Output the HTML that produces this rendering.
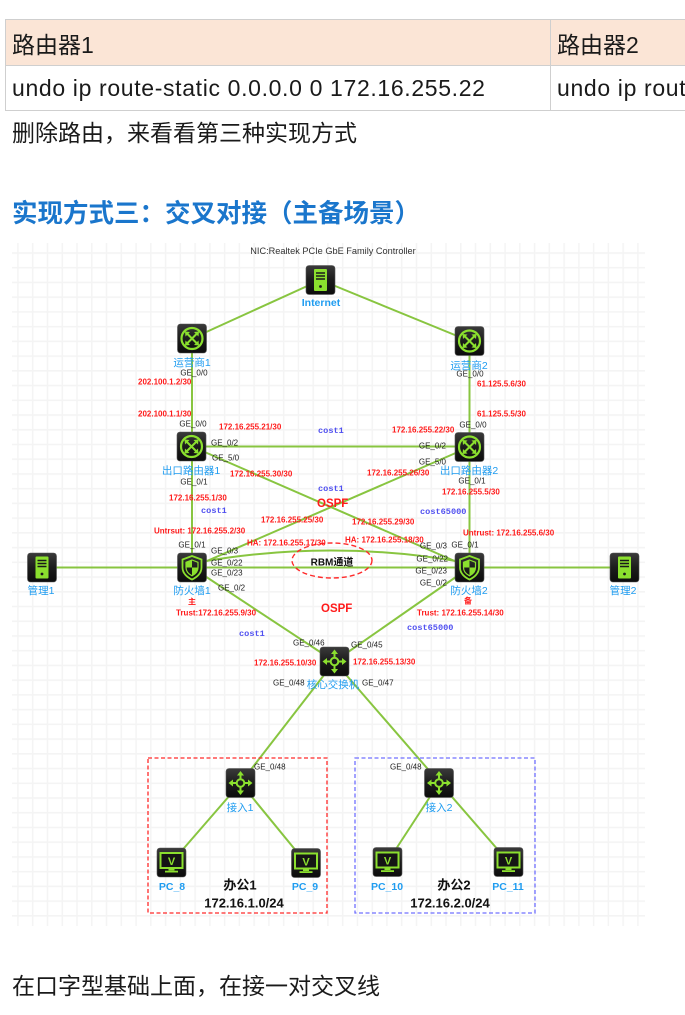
<!DOCTYPE html>
<html><head><meta charset="utf-8">
<style>
html,body{margin:0;padding:0;background:#fff;}
body{width:685px;height:1015px;position:relative;overflow:hidden;font-family:"Liberation Sans","Noto Sans CJK SC",sans-serif;color:#1a1a1a;}
.tbl{position:absolute;left:5px;top:19px;border-collapse:collapse;table-layout:fixed;width:680px;}
.tbl td{border:1px solid #cfcfcf;font-size:23px;padding:0 0 0 6px;white-space:nowrap;overflow:hidden;vertical-align:middle;}
.tbl td.last{border-right:none;}
.tbl tr.h td{background:#fbe5d6;height:45px;}
.tbl tr.b td{height:44px;letter-spacing:0.65px;}
.p{position:absolute;left:12px;font-size:23px;line-height:23px;white-space:nowrap;}
.title{position:absolute;left:12px;top:202px;font-size:25.5px;line-height:25px;font-weight:bold;color:#1a76cc;white-space:nowrap;}
svg{position:absolute;left:0;top:0;}
.g{font-family:"Liberation Sans",sans-serif;font-size:8px;fill:#222;}
.r{font-family:"Liberation Sans","Noto Sans CJK SC",sans-serif;font-size:8px;font-weight:bold;fill:#ff1a1a;}
.o{font-family:"Liberation Sans",sans-serif;font-size:11.5px;font-weight:bold;fill:#ff1a1a;}
.c{font-family:"Liberation Mono",monospace;font-size:8.6px;font-weight:bold;fill:#5050f0;}
.b{font-family:"Liberation Sans","Noto Sans CJK SC",sans-serif;font-size:10.5px;fill:#1f9cf0;}
.bb{font-family:"Liberation Sans",sans-serif;font-size:10.5px;font-weight:bold;fill:#1f9cf0;}
.k{font-family:"Liberation Sans","Noto Sans CJK SC",sans-serif;font-weight:bold;fill:#111;}
</style></head>
<body>
<table class="tbl">
<colgroup><col style="width:545px"><col style="width:135px"></colgroup>
<tr class="h"><td>路由器1</td><td class="last">路由器2</td></tr>
<tr class="b"><td>undo ip route-static 0.0.0.0 0 172.16.255.22</td><td class="last">undo ip route-static</td></tr>
</table>
<div class="p" style="top:122px">删除路由，来看看第三种实现方式</div>
<div class="title">实现方式三：交叉对接（主备场景）</div>
<div class="p" style="top:975px">在口字型基础上面，在接一对交叉线</div>

<svg width="685" height="1015" viewBox="0 0 685 1015" xmlns="http://www.w3.org/2000/svg">
<defs>
<pattern id="grid" x="17.2" y="252.2" width="14.76" height="14.73" patternUnits="userSpaceOnUse">
<path d="M0.8,0 V14.73 M0,0.8 H14.76" stroke="#f4f4f4" stroke-width="1.5" fill="none"/>
</pattern>
<linearGradient id="ib" x1="0" y1="0" x2="0" y2="1">
<stop offset="0" stop-color="#3a3a3a"/><stop offset="0.5" stop-color="#1c1c1c"/><stop offset="1" stop-color="#0c0c0c"/>
</linearGradient>
<g id="base"><rect x="-14.5" y="-14.5" width="29" height="29" rx="3" fill="url(#ib)" stroke="#555" stroke-width="0.6"/></g>
<g id="router">
<use href="#base"/>
<circle r="10.5" fill="none" stroke="#8be02e" stroke-width="2.2"/>
<g stroke="#8be02e" stroke-width="2" fill="none">
<path d="M-5,-5 L5,5 M5,-5 L-5,5"/>
</g>
<g fill="#8be02e">
<path d="M-7,-7 L-2,-6.5 L-6.5,-2 Z"/>
<path d="M7,7 L2,6.5 L6.5,2 Z"/>
<path d="M7,-7 L6.5,-2 L2,-6.5 Z"/>
<path d="M-7,7 L-6.5,2 L-2,6.5 Z"/>
</g>
</g>
<g id="server">
<use href="#base"/>
<rect x="-6.5" y="-11" width="13" height="22" rx="1" fill="#8be02e"/>
<g stroke="#1a1a1a" stroke-width="1.4"><path d="M-4.5,-7 H4.5 M-4.5,-4 H4.5 M-4.5,-1 H4.5"/></g>
<circle cx="0" cy="6.5" r="1.4" fill="#1a1a1a"/>
</g>
<g id="fw">
<use href="#base"/>
<path d="M0,-11.5 L9.5,-8 L9.5,0 C9.5,6 4.5,10 0,12 C-4.5,10 -9.5,6 -9.5,0 L-9.5,-8 Z" fill="none" stroke="#8be02e" stroke-width="1.8"/>
<path d="M0,-7.5 L6,-5.2 L6,0 C6,4 3,6.8 0,8.3 C-3,6.8 -6,4 -6,0 L-6,-5.2 Z" fill="none" stroke="#8be02e" stroke-width="1.2"/>
<path d="M0,-7.5 L-6,-5.2 L-6,0 L0,0 Z" fill="#8be02e"/>
<path d="M0,0 L6,0 C6,4 3,6.8 0,8.3 Z" fill="#8be02e"/>
</g>
<g id="sw">
<use href="#base"/>
<circle r="3.8" fill="none" stroke="#8be02e" stroke-width="2"/>
<g stroke="#8be02e" stroke-width="2"><path d="M0,-4 V-8 M0,4 V8 M-4,0 H-8 M4,0 H8"/></g>
<g fill="#8be02e">
<path d="M0,-12 L-3.5,-7.5 L3.5,-7.5 Z"/>
<path d="M0,12 L-3.5,7.5 L3.5,7.5 Z"/>
<path d="M-12,0 L-7.5,-3.5 L-7.5,3.5 Z"/>
<path d="M12,0 L7.5,-3.5 L7.5,3.5 Z"/>
</g>
</g>
<g id="pc">
<use href="#base"/>
<rect x="-11" y="-9.5" width="22" height="15" fill="#151515" stroke="#8be02e" stroke-width="2"/>
<text x="0" y="2.5" text-anchor="middle" font-family="Liberation Sans,sans-serif" font-weight="bold" font-size="11" fill="#8be02e">V</text>
<rect x="-3" y="6" width="6" height="2" fill="#8be02e"/>
<rect x="-6.5" y="8.2" width="13" height="1.8" fill="#8be02e"/>
</g>
</defs>

<rect x="12" y="243" width="633" height="683" fill="url(#grid)"/>

<!-- connectors -->
<g stroke="#88c540" stroke-width="2" fill="none">
<line x1="320.5" y1="280" x2="192" y2="338.5"/>
<line x1="320.5" y1="280" x2="469.5" y2="341"/>
<line x1="192" y1="338.5" x2="192" y2="446.5"/>
<line x1="469.5" y1="341" x2="469.5" y2="447"/>
<line x1="192" y1="446.5" x2="469.5" y2="446.5"/>
<line x1="192" y1="446.5" x2="469.5" y2="567.5"/>
<line x1="469.5" y1="447" x2="192" y2="567.5"/>
<line x1="192" y1="446.5" x2="192" y2="567.5"/>
<line x1="469.5" y1="447" x2="469.5" y2="567.5"/>
<line x1="42" y1="567.5" x2="624.5" y2="567.5"/>
<path d="M200,562 Q331,539 462,562"/>
<line x1="192" y1="567.5" x2="334.5" y2="661.5"/>
<line x1="469.5" y1="567.5" x2="334.5" y2="661.5"/>
<line x1="334.5" y1="661.5" x2="240.5" y2="783"/>
<line x1="334.5" y1="661.5" x2="508.5" y2="862"/>
<line x1="240.5" y1="783" x2="171.5" y2="862.5"/>
<line x1="240.5" y1="783" x2="306" y2="863"/>
<line x1="439" y1="783" x2="387.5" y2="862"/>
</g>

<!-- RBM ellipse -->
<ellipse cx="332" cy="560.5" rx="40" ry="17.5" fill="none" stroke="#ff2a2a" stroke-width="1.4" stroke-dasharray="5,3"/>

<!-- dashed boxes -->
<rect x="148" y="758" width="179" height="155" fill="none" stroke="#ff2a2a" stroke-width="1.3" stroke-dasharray="4,2.5"/>
<rect x="355" y="758" width="180" height="155" fill="none" stroke="#7070ff" stroke-width="1.3" stroke-dasharray="4,2.5"/>

<!-- icons -->
<use href="#server" x="320.5" y="280"/>
<use href="#router" x="192" y="338.5"/>
<use href="#router" x="469.5" y="341"/>
<use href="#router" x="191.5" y="446.5"/>
<use href="#router" x="469.5" y="447"/>
<use href="#server" x="42" y="567.5"/>
<use href="#fw" x="192" y="567.5"/>
<use href="#fw" x="469.5" y="567.5"/>
<use href="#server" x="624.5" y="567.5"/>
<use href="#sw" x="334.5" y="661.5"/>
<use href="#sw" x="240.5" y="783"/>
<use href="#sw" x="439" y="783"/>
<use href="#pc" x="171.5" y="862.5"/>
<use href="#pc" x="306" y="863"/>
<use href="#pc" x="387.5" y="862"/>
<use href="#pc" x="508.5" y="862"/>

<!-- texts -->
<g dominant-baseline="central">
<text x="333" y="251" text-anchor="middle" font-family="Liberation Sans,sans-serif" font-size="9.2" fill="#333">NIC:Realtek PCIe GbE Family Controller</text>

<text class="bb" x="321" y="303" text-anchor="middle">Internet</text>
<text class="b" x="192" y="363" text-anchor="middle">运营商1</text>
<text class="b" x="469" y="366" text-anchor="middle">运营商2</text>
<text class="b" x="191" y="471" text-anchor="middle">出口路由器1</text>
<text class="b" x="469" y="471" text-anchor="middle">出口路由器2</text>
<text class="b" x="41" y="591" text-anchor="middle">管理1</text>
<text class="b" x="192" y="591" text-anchor="middle">防火墙1</text>
<text class="b" x="469" y="591" text-anchor="middle">防火墙2</text>
<text class="b" x="623" y="591" text-anchor="middle">管理2</text>
<text class="b" x="333" y="685" text-anchor="middle">核心交换机</text>
<text class="b" x="240" y="808" text-anchor="middle">接入1</text>
<text class="b" x="439" y="808" text-anchor="middle">接入2</text>
<text class="bb" x="172" y="887" text-anchor="middle">PC_8</text>
<text class="bb" x="305" y="887" text-anchor="middle">PC_9</text>
<text class="bb" x="387" y="887" text-anchor="middle">PC_10</text>
<text class="bb" x="508" y="887" text-anchor="middle">PC_11</text>

<text class="g" x="194" y="373" text-anchor="middle">GE_0/0</text>
<text class="g" x="470" y="374" text-anchor="middle">GE_0/0</text>
<text class="g" x="193" y="424" text-anchor="middle">GE_0/0</text>
<text class="g" x="211" y="443">GE_0/2</text>
<text class="g" x="212" y="458">GE_5/0</text>
<text class="g" x="194" y="482" text-anchor="middle">GE_0/1</text>
<text class="g" x="473" y="425" text-anchor="middle">GE_0/0</text>
<text class="g" x="446" y="446" text-anchor="end">GE_0/2</text>
<text class="g" x="446" y="462" text-anchor="end">GE_5/0</text>
<text class="g" x="472" y="481" text-anchor="middle">GE_0/1</text>
<text class="g" x="192" y="545" text-anchor="middle">GE_0/1</text>
<text class="g" x="211" y="551">GE_0/3</text>
<text class="g" x="211" y="563">GE_0/22</text>
<text class="g" x="211" y="573">GE_0/23</text>
<text class="g" x="218" y="588">GE_0/2</text>
<text class="g" x="465" y="545" text-anchor="middle">GE_0/1</text>
<text class="g" x="447" y="546" text-anchor="end">GE_0/3</text>
<text class="g" x="448" y="559" text-anchor="end">GE_0/22</text>
<text class="g" x="447" y="571" text-anchor="end">GE_0/23</text>
<text class="g" x="447" y="583" text-anchor="end">GE_0/2</text>
<text class="g" x="293" y="643">GE_0/46</text>
<text class="g" x="351" y="645">GE_0/45</text>
<text class="g" x="273" y="683">GE_0/48</text>
<text class="g" x="362" y="683">GE_0/47</text>
<text class="g" x="254" y="767">GE_0/48</text>
<text class="g" x="390" y="767">GE_0/48</text>

<text class="r" x="138" y="382">202.100.1.2/30</text>
<text class="r" x="138" y="414">202.100.1.1/30</text>
<text class="r" x="477" y="384">61.125.5.6/30</text>
<text class="r" x="477" y="414">61.125.5.5/30</text>
<text class="r" x="219" y="427">172.16.255.21/30</text>
<text class="r" x="392" y="430">172.16.255.22/30</text>
<text class="r" x="230" y="474">172.16.255.30/30</text>
<text class="r" x="367" y="473">172.16.255.26/30</text>
<text class="r" x="169" y="498">172.16.255.1/30</text>
<text class="r" x="442" y="492">172.16.255.5/30</text>
<text class="r" x="261" y="520">172.16.255.25/30</text>
<text class="r" x="352" y="522">172.16.255.29/30</text>
<text class="r" x="154" y="531">Untrsut:  172.16.255.2/30</text>
<text class="r" x="463" y="533">Untrust:  172.16.255.6/30</text>
<text class="r" x="247" y="543">HA:  172.16.255.17/30</text>
<text class="r" x="345" y="540">HA:  172.16.255.18/30</text>
<text class="r" x="192" y="602" text-anchor="middle" font-size="9">主</text>
<text class="r" x="468" y="601" text-anchor="middle" font-size="9">备</text>
<text class="r" x="176" y="613">Trust:172.16.255.9/30</text>
<text class="r" x="417" y="613">Trust: 172.16.255.14/30</text>
<text class="r" x="254" y="663">172.16.255.10/30</text>
<text class="r" x="353" y="662">172.16.255.13/30</text>
<text class="o" x="317" y="504">OSPF</text>
<text class="o" x="321" y="609">OSPF</text>

<text class="c" x="318" y="431">cost1</text>
<text class="c" x="318" y="489">cost1</text>
<text class="c" x="201" y="511">cost1</text>
<text class="c" x="420" y="512">cost65000</text>
<text class="c" x="239" y="634">cost1</text>
<text class="c" x="407" y="628">cost65000</text>

<text class="k" x="332" y="563" text-anchor="middle" font-size="10">RBM通道</text>
<text class="k" x="240" y="885" text-anchor="middle" font-size="13">办公1</text>
<text class="k" x="244" y="903" text-anchor="middle" font-size="13">172.16.1.0/24</text>
<text class="k" x="454" y="885" text-anchor="middle" font-size="13">办公2</text>
<text class="k" x="450" y="903" text-anchor="middle" font-size="13">172.16.2.0/24</text>
</g>
</svg>
</body></html>
